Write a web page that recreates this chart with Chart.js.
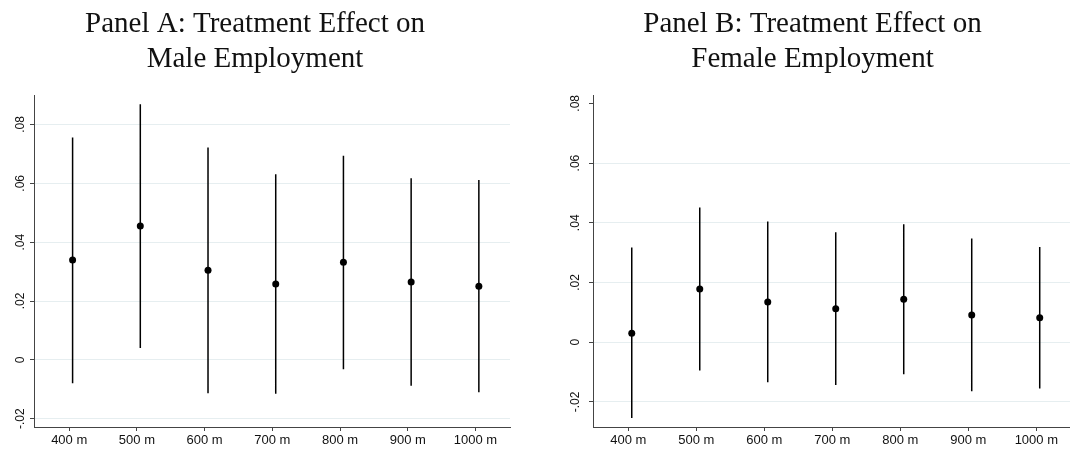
<!DOCTYPE html>
<html>
<head>
<meta charset="utf-8">
<script src="https://cdn.jsdelivr.net/npm/chart.js@4.4.1/dist/chart.umd.min.js"></script>
<style>
  html, body { margin: 0; padding: 0; background: #fff; width: 1070px; height: 451px; overflow: hidden; }
  .panel { position: absolute; top: 0; height: 451px; }
</style>
</head>
<body>
<div class="panel" style="left:0px;width:535px"><canvas id="male" width="535" height="451"></canvas></div>
<div class="panel" style="left:550px;width:525px"><canvas id="female" width="525" height="451"></canvas></div>
<script>
// distance bands (x axis) and the estimates
const distances = [400, 500, 600, 700, 800, 900, 1000];
const xTicks = [400, 500, 600, 700, 800, 900, 1000];
const yTicks = [-0.02, 0, 0.02, 0.04, 0.06, 0.08];

const maleEst = [0.0339, 0.0455, 0.0305, 0.0258, 0.0332, 0.0265, 0.0250];
const maleLo  = [-0.0079, 0.0040, -0.0113, -0.0115, -0.0032, -0.0088, -0.0110];
const maleHi  = [0.0756, 0.0869, 0.0722, 0.0631, 0.0694, 0.0617, 0.0611];

const femaleEst = [0.0030, 0.0178, 0.0135, 0.0112, 0.0144, 0.0091, 0.0082];
const femaleLo  = [-0.0254, -0.0095, -0.0134, -0.0143, -0.0107, -0.0164, -0.0155];
const femaleHi  = [0.0317, 0.0451, 0.0404, 0.0368, 0.0395, 0.0347, 0.0319];

// markers sit a little to the right of the tick marks in the original
const shift = 5;

function fmtTick(v) {
  if (Math.abs(v) < 1e-9) return '0';
  return v.toFixed(2).replace('0.', '.');
}

// stata style y labels, rotated
const rotatedYLabels = {
  id: 'rotatedYLabels',
  afterDraw(chart, args, opts) {
    const ctx = chart.ctx;
    const y = chart.scales.y;
    ctx.save();
    ctx.font = '12px "Liberation Sans", Arial, sans-serif';
    ctx.fillStyle = '#111';
    ctx.textAlign = 'center';
    ctx.textBaseline = 'middle';
    yTicks.forEach(v => {
      const py = y.getPixelForValue(v);
      ctx.save();
      ctx.translate(y.right - opts.gap, py);
      ctx.rotate(-Math.PI / 2);
      ctx.fillText(fmtTick(v), 0, 0);
      ctx.restore();
    });
    ctx.restore();
  }
};

function makePanel(id, title, est, lo, hi, cfg) {
  const bars = [];
  distances.forEach((d, i) => {
    bars.push({ x: d + shift, y: lo[i] });
    bars.push({ x: d + shift, y: hi[i] });
    bars.push({ x: d + shift, y: null });
  });
  const points = distances.map((d, i) => ({ x: d + shift, y: est[i] }));

  return new Chart(document.getElementById(id), {
    type: 'scatter',
    data: {
      datasets: [
        {
          data: bars,
          showLine: true,
          spanGaps: false,
          borderColor: '#000',
          borderWidth: 1.5,
          pointRadius: 0,
        },
        {
          data: points,
          pointRadius: 3.5,
          pointBackgroundColor: '#000',
          pointBorderColor: '#000',
          pointBorderWidth: 0,
        },
      ],
    },
    options: {
      responsive: false,
      animation: false,
      devicePixelRatio: 1,
      layout: { padding: { left: 0, right: cfg.padRight, top: 0, bottom: 0 } },
      plugins: {
        legend: { display: false },
        tooltip: { enabled: false },
        title: {
          display: true,
          text: title,
          color: '#111',
          font: { family: '"Liberation Serif", "Times New Roman", serif', size: 29, weight: 'normal', lineHeight: 1.207 },
          padding: { top: 7, bottom: 18 },
        },
        rotatedYLabels: { gap: cfg.labelGap },
      },
      scales: {
        x: {
          type: 'linear',
          min: 348,
          max: 1051,
          afterBuildTicks: s => { s.ticks = xTicks.map(v => ({ value: v })); },
          afterFit: s => { s.height = 24; },
          border: { color: '#444', width: 1 },
          grid: { drawOnChartArea: false, drawTicks: true, tickLength: 4, color: '#444' },
          ticks: {
            color: '#111',
            padding: 2,
            maxRotation: 0,
            font: { family: '"Liberation Sans", Arial, sans-serif', size: 13 },
            callback: v => v + ' m',
          },
        },
        y: {
          type: 'linear',
          min: cfg.yMin,
          max: cfg.yMax,
          afterBuildTicks: s => { s.ticks = yTicks.map(v => ({ value: v })); },
          afterFit: s => { s.width = cfg.yWidth; },
          border: { color: '#444', width: 1 },
          grid: {
            color: c => (c.tick && c.tick.value > cfg.yMax - 0.005) ? 'rgba(0,0,0,0)' : '#e6eef0',
            lineWidth: 1,
            tickColor: '#444',
            tickLength: 4,
          },
          ticks: { display: false },
        },
      },
    },
    plugins: [rotatedYLabels],
  });
}

makePanel('male', ['Panel A: Treatment Effect on', 'Male Employment'], maleEst, maleLo, maleHi,
  { yMin: -0.0228, yMax: 0.09, yWidth: 34, padRight: 25, labelGap: 13.5 });
makePanel('female', ['Panel B: Treatment Effect on', 'Female Employment'], femaleEst, femaleLo, femaleHi,
  { yMin: -0.0284, yMax: 0.0828, yWidth: 43, padRight: 0, labelGap: 17 });
</script>
</body>
</html>
